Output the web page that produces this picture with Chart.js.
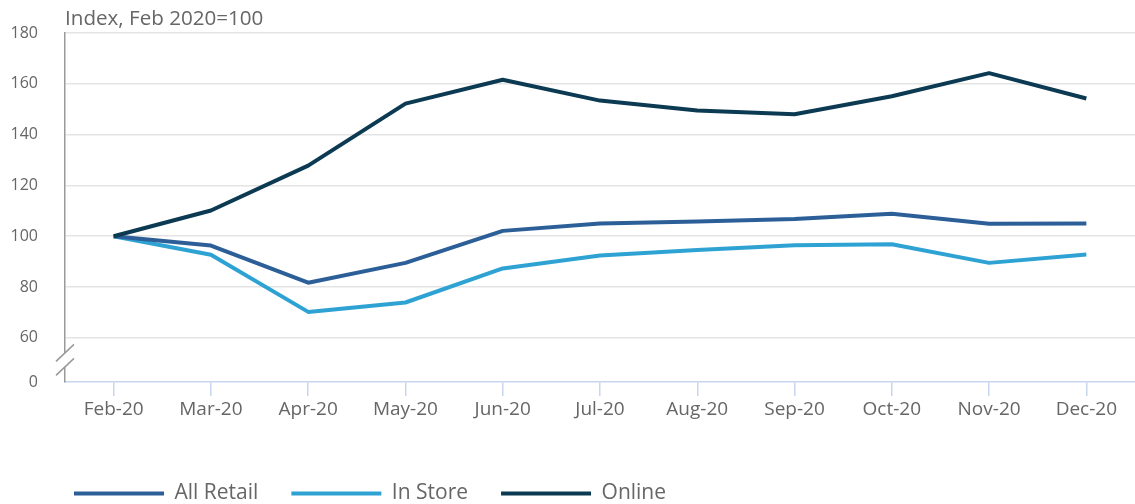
<!DOCTYPE html>
<html>
<head>
<meta charset="utf-8">
<script src="https://cdn.jsdelivr.net/npm/chart.js@4/dist/chart.umd.min.js"></script>
<style>
  html, body { margin: 0; padding: 0; background: #fff; }
  #wrap { width: 1135px; height: 504px; position: relative; }
</style>
</head>
<body>
<div id="wrap"><canvas id="grafico"></canvas></div>
<script>
const categorias = ['Feb-20', 'Mar-20', 'Apr-20', 'May-20', 'Jun-20', 'Jul-20', 'Aug-20', 'Sep-20', 'Oct-20', 'Nov-20', 'Dec-20'];
const allRetail = [100, 96.3, 81.7, 89.5, 102.1, 105.0, 105.8, 106.8, 108.8, 104.9, 105.0];
const inStore = [100, 92.7, 70.2, 73.9, 87.3, 92.4, 94.6, 96.4, 96.8, 89.5, 92.8];
const online = [100, 110.1, 127.8, 152.2, 161.6, 153.4, 149.5, 148.0, 155.1, 164.2, 154.2];

// eixo y quebrado: 180..60 em escala, depois um degrau curto até "0"
const yTicks = [60, 80, 100, 120, 140, 160, 180];
const yBreakValue = 42.6;
const yBreakLabel = '0';

const fonte = "'Open Sans', 'Noto Sans', sans-serif";
const cinza = '#666';

const quebraEixo = {
  id: 'quebraEixo',
  afterDraw(chart) {
    const y = chart.scales.y;
    const ctx = chart.ctx;
    const x = chart.chartArea.left;
    const meio = (y.getPixelForValue(yTicks[0]) + y.getPixelForValue(yBreakValue)) / 2;
    ctx.save();
    ctx.fillStyle = '#fff';
    ctx.fillRect(x - 3, meio - 7, 6, 14);
    ctx.strokeStyle = '#999';
    ctx.lineWidth = 1.5;
    [meio - 7, meio + 7].forEach(c => {
      ctx.beginPath();
      ctx.moveTo(x - 9, c + 8.5);
      ctx.lineTo(x + 9, c - 8.5);
      ctx.stroke();
    });
    ctx.restore();
  }
};

// legenda: empurra para a posição da imagem
const ajusteLegenda = {
  id: 'ajusteLegenda',
  afterLayout(chart) {
    chart.legend.left += 41;
    chart.legend.top += 10;
  }
};

const serie = (label, data, cor, order) => ({
  label, data, order,
  borderColor: cor, backgroundColor: cor,
  borderWidth: 4, pointBorderWidth: 4
});

new Chart(document.getElementById('grafico'), {
  type: 'line',
  data: {
    labels: categorias,
    datasets: [
      serie('All Retail', allRetail, '#2c5f97', 1),
      serie('In Store', inStore, '#2ea3d3', 2),
      serie('Online', online, '#0b3a52', 0)
    ]
  },
  options: {
    responsive: true,
    maintainAspectRatio: false,
    animation: false,
    layout: { padding: 0 },
    elements: {
      line: { tension: 0, borderJoinStyle: 'round' },
      point: { radius: 0, hoverRadius: 0 }
    },
    plugins: {
      tooltip: { enabled: false },
      title: {
        display: true,
        text: 'Index, Feb 2020=100',
        align: 'start',
        fullSize: false,
        color: cinza,
        font: { family: fonte, size: 20.6, weight: 'normal' },
        padding: { top: 7, bottom: 1.3 }
      },
      legend: {
        position: 'bottom',
        align: 'start',
        labels: {
          usePointStyle: true,
          pointStyle: 'line',
          pointStyleWidth: 90,
          padding: 33,
          color: cinza,
          font: { family: fonte, size: 21 },
          sort: (a, b) => a.datasetIndex - b.datasetIndex
        }
      }
    },
    scales: {
      x: {
        offset: true,
        grid: { display: true, drawOnChartArea: false, offset: false, tickLength: 14, color: '#c8d5ec', lineWidth: 1.5 },
        border: { display: true, color: '#c8d5ec', width: 1.5 },
        ticks: { color: cinza, padding: 2, font: { family: fonte, size: 19 }, maxRotation: 0 },
        afterFit(s) { s.height = 58; }
      },
      y: {
        min: yBreakValue,
        max: 180,
        afterBuildTicks(s) {
          s.ticks = [yBreakValue, ...yTicks].map(v => ({ value: v }));
        },
        afterFit(s) {
          s.width = 65;
          // o padding dos rótulos não deve empurrar a área do gráfico
          s.paddingTop = 10;
          s.paddingBottom = 10;
        },
        grid: {
          drawTicks: false,
          lineWidth: 1.5,
          color: c => (c.tick && c.tick.value === yBreakValue ? 'rgba(0,0,0,0)' : '#e4e4e4')
        },
        border: { display: true, color: '#9a9a9a', width: 1.5 },
        ticks: {
          color: cinza,
          padding: 27,
          font: { family: fonte, size: 16 },
          callback: v => (v === yBreakValue ? yBreakLabel : v)
        }
      }
    }
  },
  plugins: [quebraEixo, ajusteLegenda]
});
</script>
</body>
</html>
